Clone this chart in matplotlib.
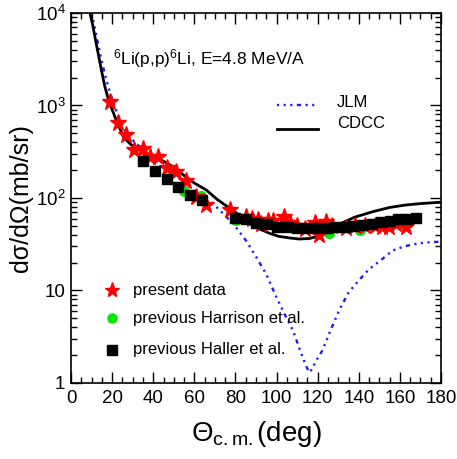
import matplotlib
matplotlib.use("Agg")
import matplotlib.pyplot as plt
from matplotlib.ticker import MultipleLocator, LogLocator, FixedLocator, NullFormatter

plt.rcParams['font.family'] = ['Liberation Sans', 'DejaVu Sans']
plt.rcParams['mathtext.fontset'] = 'custom'
plt.rcParams['mathtext.rm'] = 'Liberation Sans'
plt.rcParams['mathtext.it'] = 'Liberation Sans:italic'
plt.rcParams['mathtext.default'] = 'regular'

# present data (stars)
star_x = [19, 23, 26.8, 30.6, 34.8, 38.3, 42.5, 46.7, 51, 56.1, 61, 65.8, 77.5, 85.2, 88,
          91, 92.5, 96, 98.5, 103.5, 106.5, 110, 114, 118.5, 120.5, 124, 127, 133.8, 138,
          143, 148, 151.5, 154.8, 158, 163]
star_y = [1090, 650, 480, 330, 336, 280, 280, 210, 192, 153, 103, 84, 75, 63, 60,
          58, 52, 56, 56, 62, 53, 50, 46, 53, 40, 55, 50, 47, 50,
          50, 50, 48, 49, 52, 48]

# previous Harrison et al. (green circles)
harr_x = [54.8, 63.4, 80.5, 97, 118, 125.3, 140.7, 162]
harr_y = [119, 104, 58, 55, 48, 42, 45, 52]

# previous Haller et al. (black squares)
hall_x = [34.8, 41.1, 46.7, 52.1, 57.7, 63.9, 79.6, 84.9, 89.8, 95.3, 100.1, 105.3, 110.1,
          114.5, 119.4, 124.4, 128.6, 133.4, 137.3, 141.8, 146.4, 150.7, 155.1, 159.3, 163.4, 167.7]
hall_y = [253, 197, 162, 131, 108, 94, 61, 59, 54, 52, 48.5, 48, 47,
          47, 47, 47.5, 48, 49, 50, 51, 52, 55, 56.5, 59, 60, 61]

# CDCC curve
cdcc_x = [9.2, 10.5, 12, 13.2, 14.8, 16.5, 18.5, 21.3, 25.4, 29, 33.5, 40, 45, 49.6, 55, 60,
          65.8, 71, 77, 82, 86.9, 92, 96.6, 101, 106.3, 111, 116, 122, 126, 130.5, 138,
          146.7, 155, 162.9, 170, 180]
cdcc_y = [10000, 7500, 5000, 3660, 2400, 1590, 1100, 760, 460, 380, 330, 280, 250, 218, 175, 145,
          122, 97, 78, 65, 53, 46, 41.5, 38.5, 37, 36, 36.5, 39.5, 45, 52, 62,
          71, 79, 84, 87, 90]

# JLM curve
jlm_x = [10.8, 12.5, 14.1, 16, 18.1, 20.5, 23, 27, 32, 38, 45, 50, 55, 60, 66.6, 70.7, 74,
         78.8, 85, 90.1, 95, 99.8, 104, 107.9, 111, 114, 115.8, 117.1, 119, 122.4, 126,
         130.5, 135, 140.2, 145, 150, 156.4, 162, 169.3, 175, 180]
jlm_y = [8400, 5500, 3660, 2400, 1590, 1100, 760, 500, 380, 310, 240, 190, 150, 118, 91, 80, 68,
         53, 35, 23, 15, 8.6, 5.5, 3.74, 2.4, 1.6, 1.3, 1.4, 1.7, 2.27, 3.6,
         6.15, 9.5, 13, 17, 20.6, 27, 30, 32.4, 33.3, 33.7]

yticks = [1, 10, 100, 1000, 10000]
yticklabels = ['1', '10', '$10^2$', '$10^3$', '$10^4$']

JLM_DASH = (0.9, 1.9, 0.9, 1.9, 0.9, 1.9, 1.8, 1.9)
BLUE = '#1a1aff'

fig = plt.figure(figsize=(4.57, 4.59), dpi=100)
ax = fig.add_axes([0.1554, 0.1656, 0.8096, 0.8061])

ax.plot(jlm_x, jlm_y, color=BLUE, lw=1.7, dashes=JLM_DASH, zorder=2)
ax.plot(cdcc_x, cdcc_y, color='black', lw=2.0, zorder=2)

ax.plot(harr_x, harr_y, 'o', color='#00e600', ms=7, mec='#00e600', zorder=3)
ax.plot(star_x, star_y, '*', color='red', ms=12.5, mec='red', zorder=4)
ax.plot(hall_x, hall_y, 's', color='black', ms=7.5, zorder=5)

ax.set_yscale('log')
ax.set_xlim(0, 180)
ax.set_ylim(1, 10000)
ax.xaxis.set_major_locator(MultipleLocator(20))
ax.xaxis.set_minor_locator(MultipleLocator(5))
ax.yaxis.set_major_locator(FixedLocator(yticks))
ax.set_yticklabels(yticklabels)
ax.yaxis.set_minor_locator(LogLocator(base=10, subs=range(2, 10)))
ax.yaxis.set_minor_formatter(NullFormatter())
ax.tick_params(which='both', direction='in', top=True, right=True, labelsize=13.5, width=1.0)
ax.tick_params(which='major', length=8)
ax.tick_params(which='minor', length=4)
ax.tick_params(axis='x', pad=5)
ax.tick_params(axis='y', pad=4)
for s in ax.spines.values():
    s.set_linewidth(1.2)

ax.set_ylabel('d\u03c3/d\u03a9(mb/sr)', fontsize=18, labelpad=2)
ax.set_xlabel('$\\Theta_{c.m.}$(deg)', fontsize=20, labelpad=9)

ax.text(0.113, 0.878, '$^6$Li(p,p)$^6$Li, E=4.8 MeV/A', transform=ax.transAxes, fontsize=12.5, va='center')

# upper-right legend
ax.plot([100, 120], [10 ** 3.0, 10 ** 3.0], color=BLUE, lw=1.7, dashes=JLM_DASH)
ax.text(129.5, 10 ** 3.03, 'JLM', fontsize=12, va='center')
ax.plot([100, 120], [10 ** 2.75, 10 ** 2.75], color='black', lw=2.0)
ax.text(129.5, 10 ** 2.81, 'CDCC', fontsize=12, va='center')

# lower-left legend
ax.plot([20], [10 ** 1.0], '*', color='red', ms=11)
ax.text(30, 10 ** 1.0, 'present data', fontsize=12, va='center')
ax.plot([20], [10 ** 0.70], 'o', color='#00e600', ms=6.5)
ax.text(30, 10 ** 0.70, 'previous Harrison et al.', fontsize=12, va='center')
ax.plot([20], [10 ** 0.357], 's', color='black', ms=6.5)
ax.text(30, 10 ** 0.357, 'previous Haller et al.', fontsize=12, va='center')

fig.savefig('out.png', dpi=100)
